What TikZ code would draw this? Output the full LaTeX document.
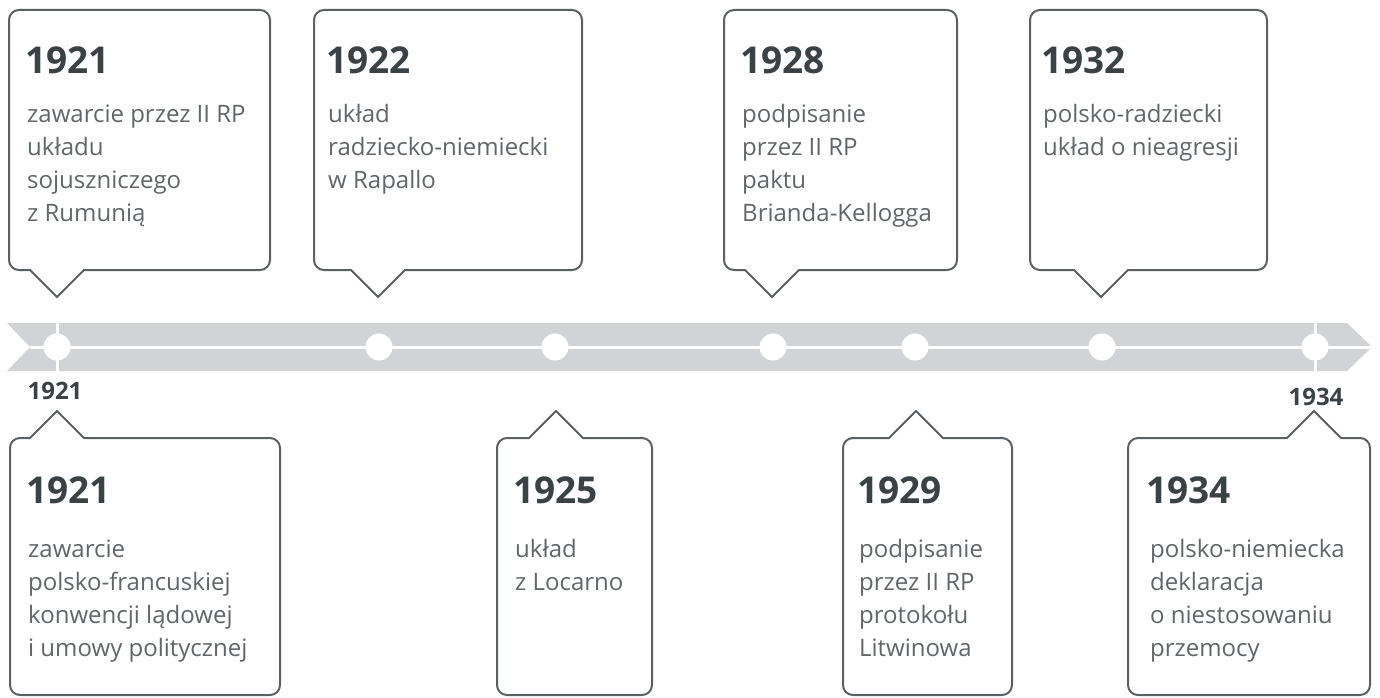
\documentclass[tikz,border=0pt]{standalone}
\usepackage{fontspec}
\setmainfont{Open Sans}
\definecolor{band}{HTML}{D1D3D4}
\definecolor{frame}{HTML}{5C6062}
\definecolor{yeartext}{HTML}{3C4144}
\definecolor{bodytext}{HTML}{626669}
\tikzset{
  boxline/.style={draw=frame, line width=2pt, fill=white},
  yearlbl/.style={font=\fontsize{37}{40}\selectfont\bfseries, text=yeartext, inner sep=0pt, anchor=base west},
  bodylbl/.style={font=\fontsize{24}{33}\selectfont, text=bodytext, inner sep=0pt, anchor=base west},
  axislbl/.style={font=\fontsize{24}{26}\selectfont\bfseries, text=yeartext, inner sep=0pt, anchor=base},
  dotmark/.style={circle, fill=white, inner sep=0pt, minimum size=27pt},
}
% top box: L R T B px
\newcommand\tlTopBox[5]{%
  \draw[boxline] (#5-27,#4) -- (#5,#4+27) -- (#5+27,#4) -- (#2-10,#4)
    arc[start angle=270,end angle=360,radius=10pt] -- (#2,#3+10)
    arc[start angle=0,end angle=90,radius=10pt] -- (#1+10,#3)
    arc[start angle=90,end angle=180,radius=10pt] -- (#1,#4-10)
    arc[start angle=180,end angle=270,radius=10pt] -- cycle;}
% bottom box: L R T B px
\newcommand\tlBotBox[5]{%
  \draw[boxline] (#5-27,#3) -- (#5,#3-27) -- (#5+27,#3) -- (#2-10,#3)
    arc[start angle=90,end angle=0,radius=10pt] -- (#2,#4-10)
    arc[start angle=0,end angle=-90,radius=10pt] -- (#1+10,#4)
    arc[start angle=-90,end angle=-180,radius=10pt] -- (#1,#3+10)
    arc[start angle=180,end angle=90,radius=10pt] -- cycle;}
\begin{document}
\begin{tikzpicture}[x=1pt,y=-1pt]
\useasboundingbox (0,0) rectangle (1380,698);
% timeline band
\fill[band] (7,323) -- (1347,323) -- (1372,347) -- (1347,371) -- (7,371) -- (30,347) -- cycle;
\draw[white, line width=3pt] (30,347) -- (1372,347);
\draw[white, line width=3pt] (57,323) -- (57,371);
\draw[white, line width=3pt] (1315,323) -- (1315,371);
\node[dotmark] (d1) at (57,347) {};
\node[dotmark] (d2) at (379,347) {};
\node[dotmark] (d3) at (555,347) {};
\node[dotmark] (d4) at (773,347) {};
\node[dotmark] (d5) at (915,347) {};
\node[dotmark] (d6) at (1102,347) {};
\node[dotmark] (d7) at (1315,347) {};
\node[axislbl] (ax1) at (55,399) {1921};
\node[axislbl] (ax2) at (1316,405) {1934};
% top boxes
\tlTopBox{9}{270}{10}{270}{57}
\tlTopBox{314}{582}{10}{270}{378}
\tlTopBox{724}{957}{10}{270}{772}
\tlTopBox{1030}{1267}{10}{270}{1101}
% bottom boxes
\tlBotBox{10}{280}{438}{695}{57}
\tlBotBox{497}{652}{438}{695}{556}
\tlBotBox{843}{1012}{438}{695}{916}
\tlBotBox{1128}{1370}{438}{695}{1314}
% top texts
\node[yearlbl] (a1y) at (25,74) {1921};
\node[bodylbl] (a1a) at (27,122) {zawarcie przez II RP};
\node[bodylbl] (a1b) at (27,155) {układu};
\node[bodylbl] (a1c) at (27,188) {sojuszniczego};
\node[bodylbl] (a1d) at (27,221) {z Rumunią};
\node[yearlbl] (a2y) at (326,74) {1922};
\node[bodylbl] (a2a) at (328,122) {układ};
\node[bodylbl] (a2b) at (328,155) {radziecko-niemiecki};
\node[bodylbl] (a2c) at (328,188) {w Rapallo};
\node[yearlbl] (a3y) at (740,74) {1928};
\node[bodylbl] (a3a) at (742,122) {podpisanie};
\node[bodylbl] (a3b) at (742,155) {przez II RP};
\node[bodylbl] (a3c) at (742,188) {paktu};
\node[bodylbl] (a3d) at (742,221) {Brianda-Kellogga};
\node[yearlbl] (a4y) at (1041,74) {1932};
\node[bodylbl] (a4a) at (1043,122) {polsko-radziecki};
\node[bodylbl] (a4b) at (1043,155) {układ o nieagresji};
% bottom texts
\node[yearlbl] (b1y) at (26,503) {1921};
\node[bodylbl] (b1a) at (28,557) {zawarcie};
\node[bodylbl] (b1b) at (28,590) {polsko-francuskiej};
\node[bodylbl] (b1c) at (28,623) {konwencji lądowej};
\node[bodylbl] (b1d) at (28,656) {i umowy politycznej};
\node[yearlbl] (b2y) at (513,503) {1925};
\node[bodylbl] (b2a) at (515,557) {układ};
\node[bodylbl] (b2b) at (515,590) {z Locarno};
\node[yearlbl] (b3y) at (857,503) {1929};
\node[bodylbl] (b3a) at (859,557) {podpisanie};
\node[bodylbl] (b3b) at (859,590) {przez II RP};
\node[bodylbl] (b3c) at (859,623) {protokołu};
\node[bodylbl] (b3d) at (859,656) {Litwinowa};
\node[yearlbl] (b4y) at (1146,503) {1934};
\node[bodylbl] (b4a) at (1150,557) {polsko-niemiecka};
\node[bodylbl] (b4b) at (1150,590) {deklaracja};
\node[bodylbl] (b4c) at (1150,623) {o niestosowaniu};
\node[bodylbl] (b4d) at (1150,656) {przemocy};
\end{tikzpicture}
\end{document}
